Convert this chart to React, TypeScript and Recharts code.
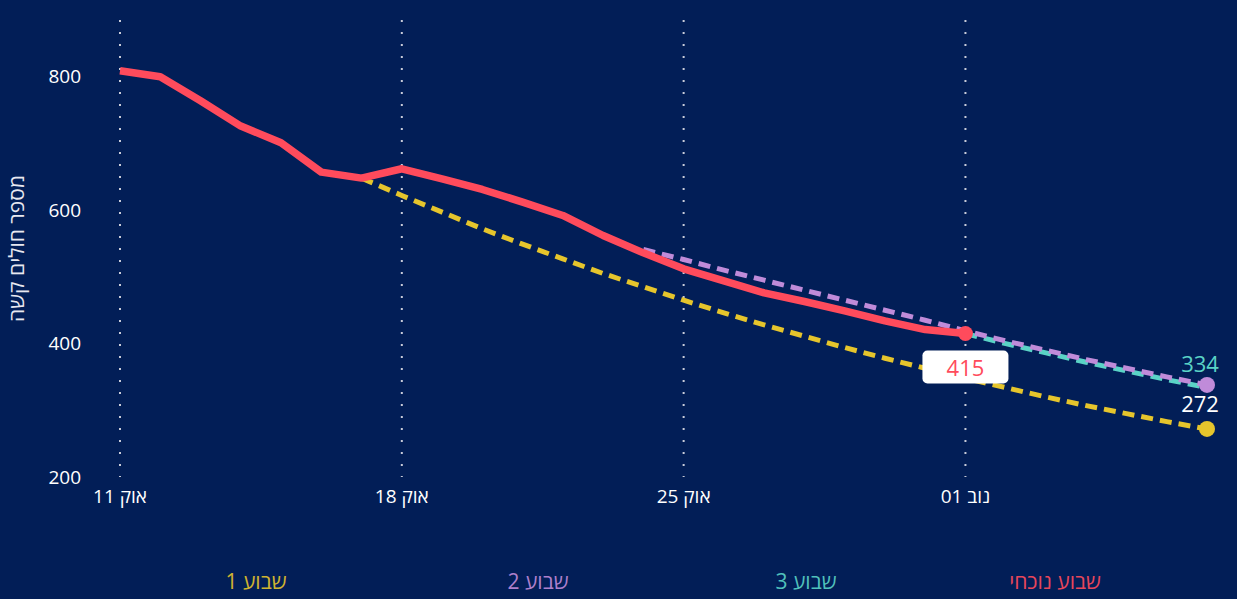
import { LineChart, Line, XAxis, YAxis, CartesianGrid } from "recharts"

// days counted from Oct 11 (day 0) to Nov 7 (day 27)
const tickDays = [0, 7, 14, 21]
const tickLabels = ["אוק 11", "אוק 18", "אוק 25", "נוב 01"]
const yTicks = [200, 400, 600, 800]

// current week: Oct 11 .. Nov 1
const current = [809, 800, 764, 726, 701, 657, 648, 662, 647, 631, 612, 592, 562, 536, 512, 494, 476, 463, 449, 434, 421, 415]
// projections
const week1Start = 6
const week1 = [648, 622, 597, 572, 549, 527, 505, 485, 465, 446, 428, 411, 394, 378, 363, 348, 334, 320, 307, 295, 283, 272]
const week2Start = 13
const week2 = [541, 526, 510, 495, 480, 465, 450, 435, 419, 404, 390, 376, 363, 350, 338]
const week3Start = 21
const week3 = [415, 400, 386, 372, 359, 346, 334]
const lastDay = 27

const legendNames = ["שבוע 1", "שבוע 2", "שבוע 3", "שבוע נוכחי"]
const yLabel = "מספר חולים קשה"

const BG = "#021e57"
const RED = "#ff4b5c"
const YELLOW = "#e6c52c"
const PURPLE = "#c08bd9"
const TEAL = "#5ad3c6"
const FONT = "'Open Sans', 'DejaVu Sans', sans-serif"

const data = Array.from({ length: lastDay + 1 }, (_, day) => ({
  day,
  current: current[day] ?? null,
  w1: day >= week1Start ? week1[day - week1Start] ?? null : null,
  w2: day >= week2Start ? week2[day - week2Start] ?? null : null,
  w3: day >= week3Start ? week3[day - week3Start] ?? null : null,
}))

const lastDot = (last: number, color: string, r: number) => (p: any) => {
  if (p.index !== last || p.cy == null) return <g key={p.index} />
  return <circle key={p.index} cx={p.cx} cy={p.cy} r={r} fill={color} />
}

const endLabel = (last: number, color: string, dy: number) => (p: any) => {
  if (p.index !== last) return <g key={p.index} />
  return (
    <text key={p.index} x={p.x - 7} y={p.y + dy} fill={color} fontSize={22} textAnchor="middle" fontFamily={FONT}>
      {p.value}
    </text>
  )
}

const boxLabel = (p: any) => {
  if (p.index !== current.length - 1) return <g key={p.index} />
  return (
    <g key={p.index}>
      <rect x={p.x - 43} y={p.y + 17} width={86} height={33} rx={5} fill="#ffffff" />
      <text x={p.x} y={p.y + 42} fill={RED} fontSize={22} textAnchor="middle" fontFamily={FONT}>
        {p.value}
      </text>
    </g>
  )
}

// vertical grid only at the date ticks, not at the plot edge
const gridX = (props: any) => {
  const { offset } = props
  return tickDays.map((d) => offset.left + (d / lastDay) * offset.width)
}

const legendColors = [YELLOW, PURPLE, TEAL, RED]
const legendX = [256, 538, 806, 1055]

export default function App() {
  return (
    <div style={{ position: "absolute", left: 0, top: 0, width: 1237, height: 599, background: BG, overflow: "hidden" }}>
      <LineChart width={1237} height={599} data={data} margin={{ top: 20, right: 30, left: 0, bottom: 92 }}>
        <CartesianGrid horizontal={false} vertical stroke="#c8cbd8" strokeDasharray="2 10" strokeWidth={2} verticalCoordinatesGenerator={gridX} />
        <XAxis
          dataKey="day"
          type="number"
          domain={[0, lastDay]}
          ticks={tickDays}
          tickFormatter={(d) => tickLabels[tickDays.indexOf(d)]}
          axisLine={false}
          tickLine={false}
          tickMargin={7}
          height={30}
          tick={{ fill: "#ffffff", fontSize: 19, fontFamily: FONT, direction: "rtl" } as any}
        />
        <YAxis
          domain={[200, 885]}
          ticks={yTicks}
          axisLine={false}
          tickLine={false}
          tickMargin={33}
          width={120}
          tick={{ fill: "#ffffff", fontSize: 19, fontFamily: FONT }}
          label={{ value: yLabel, angle: -90, position: "insideLeft", offset: 17, fill: "#e8e8f0", fontSize: 21, fontFamily: FONT, style: { textAnchor: "middle" } }}
        />
        <Line dataKey="w1" stroke={YELLOW} strokeWidth={5} strokeDasharray="12 7" dot={lastDot(lastDay, YELLOW, 8)} activeDot={false} label={endLabel(lastDay, "#ffffff", -17)} isAnimationActive={false} type="linear" />
        <Line dataKey="w3" stroke={TEAL} strokeWidth={5} strokeDasharray="12 7" dot={false} activeDot={false} label={endLabel(lastDay, TEAL, -16)} isAnimationActive={false} type="linear" />
        <Line dataKey="w2" stroke={PURPLE} strokeWidth={5} strokeDasharray="12 7" dot={lastDot(lastDay, PURPLE, 8)} activeDot={false} isAnimationActive={false} type="linear" />
        <Line dataKey="current" stroke={RED} strokeWidth={7.5} dot={lastDot(current.length - 1, RED, 7.5)} activeDot={false} label={boxLabel} isAnimationActive={false} type="linear" strokeLinejoin="round" />
      </LineChart>
      {legendNames.map((n, i) => (
        <div
          key={n}
          style={{ position: "absolute", top: 567, left: legendX[i] - 100, width: 200, textAlign: "center", color: legendColors[i], fontSize: 21, fontFamily: FONT, direction: "rtl", opacity: 0.9 }}
        >
          {n}
        </div>
      ))}
    </div>
  )
}
